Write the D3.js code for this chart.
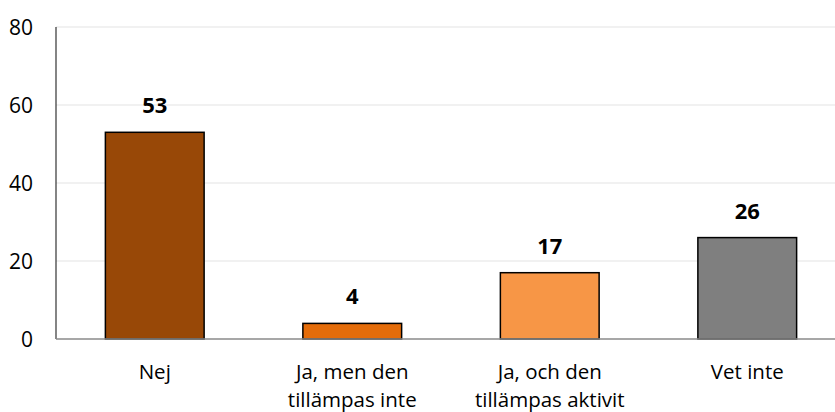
<!DOCTYPE html>
<html>
<head>
<meta charset="utf-8">
<script src="https://cdn.jsdelivr.net/npm/d3@7"></script>
<style>
  body { margin: 0; background: #fff; }
  svg { display: block; font-family: "Open Sans", "Liberation Sans", sans-serif; }
</style>
</head>
<body>
<svg width="835" height="412"></svg>
<script>
const categories = [["Nej"], ["Ja, men den", "tillämpas inte"], ["Ja, och den", "tillämpas aktivit"], ["Vet inte"]];
const values = [53, 4, 17, 26];
const colors = ["#984807", "#E46C0A", "#F79646", "#7F7F7F"];
const yTicks = [0, 20, 40, 60, 80];

const svg = d3.select("svg");
const keys = categories.map(c => c.join(" "));

let x = d3.scaleBand().domain(keys).range([56, 846]).paddingInner(0.5).paddingOuter(0.25);
let y = d3.scaleLinear().domain([0, 80]).range([339, 27]);

// gridlines
svg.append("g").selectAll("line").data(yTicks.slice(1)).enter()
    .append("line")
    .attr("x1", 56).attr("x2", 835)
    .attr("y1", d => y(d)).attr("y2", d => y(d))
    .attr("stroke", "#ececec").attr("stroke-width", 1.3);

// y tick labels
let leftAxis = d3.axisLeft(y).tickValues(yTicks).tickSize(0).tickPadding(23);
let gy = svg.append("g").attr("transform", "translate(56,0)").call(leftAxis);
gy.select(".domain").remove();
gy.selectAll("text")
    .attr("font-size", 21).attr("fill", "#000")
    .attr("font-family", "Open Sans, sans-serif")
    .attr("dy", "0.35em");

// vertical axis line
svg.append("line").attr("x1", 56).attr("x2", 56).attr("y1", y(80)).attr("y2", y(0))
    .attr("stroke", "#333").attr("stroke-width", 1.2);

// bars
svg.append("g").selectAll("rect").data(values).enter()
    .append("rect")
    .attr("x", (d, i) => x(keys[i]))
    .attr("y", d => y(d))
    .attr("width", x.bandwidth())
    .attr("height", d => y(0) - y(d))
    .attr("fill", (d, i) => colors[i])
    .attr("stroke", "#000").attr("stroke-width", 1.5);

// x axis line
svg.append("line").attr("x1", 56).attr("x2", 835).attr("y1", y(0)).attr("y2", y(0))
    .attr("stroke", "#8a8a8a").attr("stroke-width", 1.5);

// value labels
svg.append("g").selectAll("text").data(values).enter()
    .append("text")
    .attr("x", (d, i) => x(keys[i]) + x.bandwidth() / 2)
    .attr("y", d => y(d) - 19)
    .attr("text-anchor", "middle")
    .attr("font-size", 22).attr("font-weight", "bold")
    .text(d => d);

// category labels
let cat = svg.append("g").selectAll("text").data(categories).enter()
    .append("text")
    .attr("text-anchor", "middle")
    .attr("font-size", 20.5)
    .attr("x", (d, i) => x(keys[i]) + x.bandwidth() / 2)
    .attr("y", 379);
cat.selectAll("tspan").data(d => d).enter()
    .append("tspan")
    .attr("x", function () { return this.parentNode.getAttribute("x"); })
    .attr("dy", (d, i) => i === 0 ? 0 : 28)
    .text(d => d);
</script>
</body>
</html>
